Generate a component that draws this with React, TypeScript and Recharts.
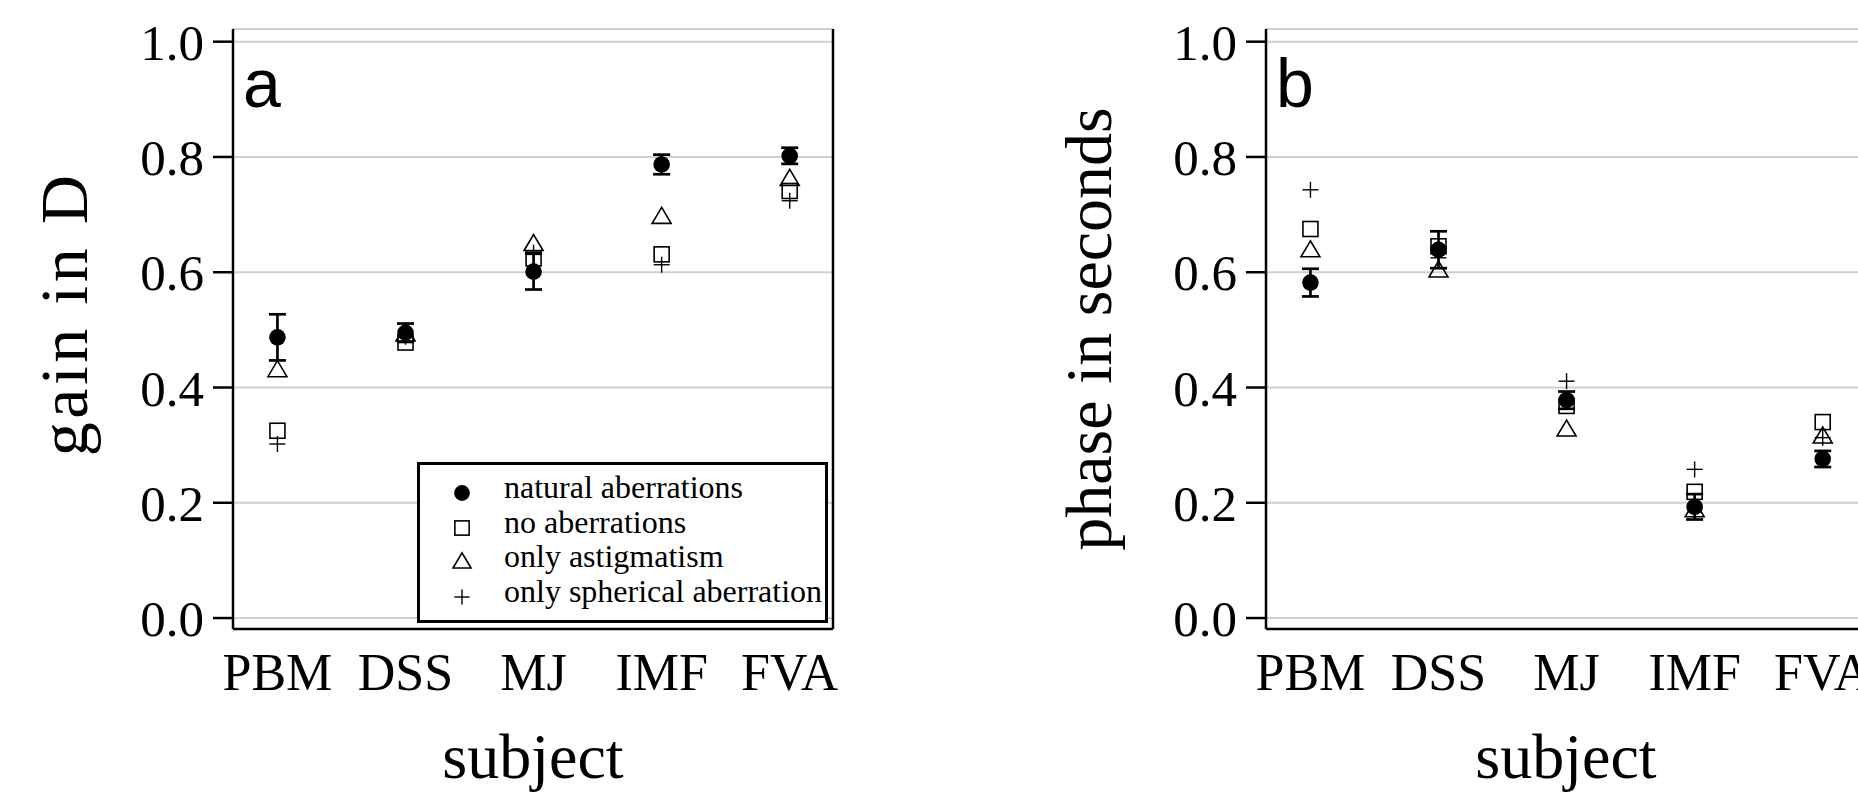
import React from "react"
import { CartesianGrid, ErrorBar, Legend, Scatter, ScatterChart, XAxis, YAxis } from "recharts"

const subjects = ["PBM", "DSS", "MJ", "IMF", "FVA"]
const yTicks = [0, 0.2, 0.4, 0.6, 0.8, 1.0]
const seriesNames = ["natural aberrations", "no aberrations", "only astigmatism", "only spherical aberration"]

// panel a: gain in D
const gainNatural = [0.487, 0.495, 0.601, 0.787, 0.802]
const gainNaturalErr = [0.04, 0.016, 0.031, 0.017, 0.014]
const gainNone = [0.325, 0.478, 0.624, 0.631, 0.741]
const gainAstig = [0.428, 0.49, 0.647, 0.694, 0.76]
const gainSpher = [0.302, 0.488, 0.634, 0.613, 0.724]

// panel b: phase in seconds
const phaseNatural = [0.582, 0.639, 0.378, 0.193, 0.276]
const phaseNaturalErr = [0.024, 0.032, 0.015, 0.022, 0.014]
const phaseNone = [0.675, 0.645, 0.368, 0.219, 0.34]
const phaseAstig = [0.636, 0.601, 0.325, 0.185, 0.313]
const phaseSpher = [0.743, 0.625, 0.411, 0.258, 0.313]

const serif = '"Liberation Serif", "Times New Roman", serif'
const sans = '"Liberation Sans", Arial, sans-serif'
const xDomain = [0.653, 5.338]
const yDomain = [-0.019, 1.022]
const axisStroke = { stroke: "#000", strokeWidth: 2.5 }

const toRows = (vals: number[], errs?: number[]) =>
  subjects.map((s, i) => ({ subject: s, x: i + 1, y: vals[i], err: errs ? errs[i] : 0 }))

type Kind = "dot" | "square" | "triangle" | "plus"
const kindOf: Record<string, Kind> = {
  "natural aberrations": "dot",
  "no aberrations": "square",
  "only astigmatism": "triangle",
  "only spherical aberration": "plus",
}

function Marker({ kind, cx, cy, k = 1 }: { kind: Kind; cx: number; cy: number; k?: number }) {
  if (kind === "dot") return <circle cx={cx} cy={cy} r={8.3 * k} fill="#000" />
  if (kind === "square") {
    const s = 15 * k
    return <rect x={cx - s / 2} y={cy - s / 2} width={s} height={s} fill="none" stroke="#000" strokeWidth={1.6} />
  }
  if (kind === "triangle") {
    const w = 19 * k
    const h = 16 * k
    const pts = `${cx},${cy - (2 * h) / 3} ${cx - w / 2},${cy + h / 3} ${cx + w / 2},${cy + h / 3}`
    return <polygon points={pts} fill="none" stroke="#000" strokeWidth={1.6} />
  }
  const a = 8 * k
  return (
    <g stroke="#000" strokeWidth={1.4}>
      <line x1={cx - a} y1={cy} x2={cx + a} y2={cy} />
      <line x1={cx} y1={cy - a} x2={cx} y2={cy + a} />
    </g>
  )
}

const shapeFor = (kind: Kind) => (p: any) => <Marker kind={kind} cx={p.cx} cy={p.cy} />

function LegendBox(props: any) {
  const items = [...(props.payload || [])].sort(
    (a: any, b: any) => seriesNames.indexOf(a.value) - seriesNames.indexOf(b.value)
  )
  return (
    <div style={{ paddingTop: 5 }}>
      {items.map((it: any) => (
        <div key={it.value} style={{ position: "relative", height: 34.6 }}>
          <svg width={24} height={24} style={{ position: "absolute", left: 30, top: 11.4 }}>
            <Marker kind={kindOf[it.value]} cx={12} cy={12} k={0.95} />
          </svg>
          <span
            style={{
              position: "absolute",
              left: 84,
              top: 0,
              lineHeight: "34.6px",
              fontSize: 32,
              fontFamily: serif,
              color: "#000",
              whiteSpace: "nowrap",
            }}
          >
            {it.value}
          </span>
        </div>
      ))}
    </div>
  )
}

type PanelProps = {
  letter: string
  title: string
  titleX: number
  titleDy: number
  titleSize: number
  titleSpacing: number
  natural: number[]
  naturalErr: number[]
  none: number[]
  astig: number[]
  spher: number[]
  legend?: boolean
}

function Panel(props: PanelProps) {
  const { letter, title, titleX, titleDy, titleSize, titleSpacing, natural, naturalErr, none, astig, spher, legend } =
    props
  return (
    <ScatterChart width={900} height={792} margin={{ top: 29, right: 0, bottom: 0, left: 0 }}>
      <CartesianGrid vertical={false} stroke="#d0d0d0" strokeWidth={2} xAxisId="b" yAxisId="l" />
      <XAxis
        xAxisId="b"
        type="number"
        dataKey="x"
        domain={xDomain}
        ticks={[1, 2, 3, 4, 5]}
        interval={0}
        allowDataOverflow
        tickFormatter={(v: number) => subjects[v - 1]}
        height={163}
        axisLine={axisStroke}
        tickLine={false}
        tickSize={0}
        tickMargin={24}
        tick={{ fontFamily: serif, fontSize: 52, fill: "#000" }}
        label={{
          value: "subject",
          content: (p: any) => (
            <text
              x={p.viewBox.x + p.viewBox.width / 2}
              y={p.viewBox.y + p.viewBox.height - 14}
              textAnchor="middle"
              fontFamily={serif}
              fontSize={64}
              fill="#000"
            >
              subject
            </text>
          ),
        }}
      />
      <XAxis
        xAxisId="t"
        orientation="top"
        type="number"
        dataKey="x"
        domain={xDomain}
        allowDataOverflow
        height={0}
        tick={false}
        tickLine={false}
        axisLine={axisStroke}
      />
      <YAxis
        yAxisId="l"
        type="number"
        dataKey="y"
        domain={yDomain}
        ticks={yTicks}
        interval={0}
        allowDataOverflow
        width={233}
        tickSize={20}
        tickMargin={9}
        tickLine={axisStroke}
        axisLine={axisStroke}
        tick={{ fontFamily: serif, fontSize: 51, fill: "#000" }}
        tickFormatter={(v: number) => v.toFixed(1)}
        label={{
          value: title,
          content: (p: any) => {
            const vb = p.viewBox
            const x = vb.x + titleX
            const y = vb.y + vb.height / 2 + titleDy
            return (
              <g>
                <text
                  x={x}
                  y={y}
                  transform={`rotate(-90, ${x}, ${y})`}
                  textAnchor="middle"
                  fontFamily={serif}
                  fontSize={titleSize}
                  letterSpacing={titleSpacing}
                  fill="#000"
                >
                  {title}
                </text>
                <text x={vb.x + vb.width + 10} y={vb.y + 78} fontFamily={sans} fontSize={68} fill="#000">
                  {letter}
                </text>
              </g>
            )
          },
        }}
      />
      <YAxis
        yAxisId="r"
        orientation="right"
        type="number"
        domain={yDomain}
        ticks={yTicks}
        interval={0}
        allowDataOverflow
        width={67}
        tickSize={21}
        tick={false}
        tickLine={axisStroke}
        axisLine={axisStroke}
      />
      <Scatter
        name={seriesNames[1]}
        data={toRows(none)}
        xAxisId="b"
        yAxisId="l"
        shape={shapeFor("square")}
        isAnimationActive={false}
      />
      <Scatter
        name={seriesNames[2]}
        data={toRows(astig)}
        xAxisId="b"
        yAxisId="l"
        shape={shapeFor("triangle")}
        isAnimationActive={false}
      />
      <Scatter
        name={seriesNames[3]}
        data={toRows(spher)}
        xAxisId="b"
        yAxisId="l"
        shape={shapeFor("plus")}
        isAnimationActive={false}
      />
      <Scatter
        name={seriesNames[0]}
        data={toRows(natural, naturalErr)}
        xAxisId="b"
        yAxisId="l"
        shape={shapeFor("dot")}
        isAnimationActive={false}
      >
        <ErrorBar dataKey="err" direction="y" width={8.5} stroke="#000" strokeWidth={2.7} isAnimationActive={false} />
      </Scatter>
      {legend && (
        <Legend
          layout="horizontal"
          verticalAlign="middle"
          align="center"
          content={<LegendBox />}
          wrapperStyle={{
            left: 417,
            top: 462,
            width: 411,
            height: 161,
            border: "3px solid #000",
            background: "#fff",
            boxSizing: "border-box",
          }}
        />
      )}
    </ScatterChart>
  )
}

export default function App() {
  return (
    <div
      style={{
        position: "absolute",
        left: 0,
        top: 0,
        width: 1858,
        height: 792,
        overflow: "hidden",
        background: "#fff",
      }}
    >
      <div style={{ position: "absolute", left: 0, top: 0 }}>
        <Panel
          letter="a"
          title="gain in D"
          titleX={87}
          titleDy={-15}
          titleSize={68}
          titleSpacing={3.5}
          natural={gainNatural}
          naturalErr={gainNaturalErr}
          none={gainNone}
          astig={gainAstig}
          spher={gainSpher}
          legend
        />
      </div>
      <div style={{ position: "absolute", left: 1033.4, top: 0 }}>
        <Panel
          letter="b"
          title="phase in seconds"
          titleX={78}
          titleDy={0}
          titleSize={66}
          titleSpacing={0}
          natural={phaseNatural}
          naturalErr={phaseNaturalErr}
          none={phaseNone}
          astig={phaseAstig}
          spher={phaseSpher}
        />
      </div>
    </div>
  )
}
